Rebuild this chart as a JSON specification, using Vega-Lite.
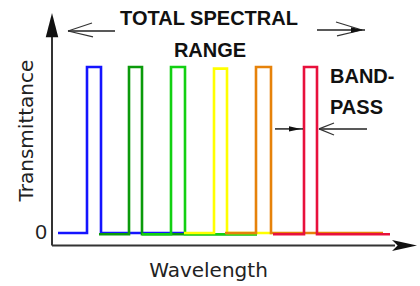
{
  "$schema": "https://vega.github.io/schema/vega-lite/v6.json",
  "width": 420,
  "height": 286,
  "autosize": {"type": "fit", "contains": "padding"},
  "padding": 0,
  "background": "white",
  "config": {"view": {"stroke": null}},
  "datasets": {
    "pulses": [
      {"band": "blue", "i": 1, "w": 6, "t": 0},
      {"band": "blue", "i": 2, "w": 35, "t": 0},
      {"band": "blue", "i": 3, "w": 35, "t": 1},
      {"band": "blue", "i": 4, "w": 49, "t": 1},
      {"band": "blue", "i": 5, "w": 49, "t": 0},
      {"band": "blue", "i": 6, "w": 132, "t": 0},
      {"band": "darkgreen", "i": 1, "w": 47, "t": -0.008},
      {"band": "darkgreen", "i": 2, "w": 77, "t": -0.008},
      {"band": "darkgreen", "i": 3, "w": 77, "t": 1},
      {"band": "darkgreen", "i": 4, "w": 90, "t": 1},
      {"band": "darkgreen", "i": 5, "w": 90, "t": -0.008},
      {"band": "darkgreen", "i": 6, "w": 205, "t": -0.008},
      {"band": "green", "i": 1, "w": 90, "t": -0.008},
      {"band": "green", "i": 2, "w": 119, "t": -0.008},
      {"band": "green", "i": 3, "w": 119, "t": 1},
      {"band": "green", "i": 4, "w": 133, "t": 1},
      {"band": "green", "i": 5, "w": 133, "t": -0.008},
      {"band": "green", "i": 6, "w": 205, "t": -0.008},
      {"band": "yellow", "i": 1, "w": 132, "t": 0},
      {"band": "yellow", "i": 2, "w": 162, "t": 0},
      {"band": "yellow", "i": 3, "w": 162, "t": 0.99},
      {"band": "yellow", "i": 4, "w": 175, "t": 0.99},
      {"band": "yellow", "i": 5, "w": 175, "t": 0},
      {"band": "yellow", "i": 6, "w": 220, "t": 0},
      {"band": "orange", "i": 1, "w": 173, "t": 0},
      {"band": "orange", "i": 2, "w": 204, "t": 0},
      {"band": "orange", "i": 3, "w": 204, "t": 1},
      {"band": "orange", "i": 4, "w": 219, "t": 1},
      {"band": "orange", "i": 5, "w": 219, "t": 0},
      {"band": "orange", "i": 6, "w": 331, "t": 0},
      {"band": "red", "i": 1, "w": 221, "t": -0.008},
      {"band": "red", "i": 2, "w": 252, "t": -0.008},
      {"band": "red", "i": 3, "w": 252, "t": 1},
      {"band": "red", "i": 4, "w": 265, "t": 1},
      {"band": "red", "i": 5, "w": 265, "t": -0.008},
      {"band": "red", "i": 6, "w": 338, "t": -0.008}
    ],
    "axes": [
      {"part": "transmittance axis", "w": 0, "t": 1.193, "w2": 0, "t2": -0.075},
      {"part": "wavelength axis", "w": 0, "t": -0.075, "w2": 343, "t2": -0.075}
    ],
    "arrows": [
      {"part": "range left", "w": 16, "t": 1.217, "w2": 63, "t2": 1.217},
      {"part": "range right", "w": 265, "t": 1.223, "w2": 313, "t2": 1.223},
      {"part": "bandpass left", "w": 223, "t": 0.627, "w2": 251, "t2": 0.627},
      {"part": "bandpass right", "w": 267, "t": 0.627, "w2": 315, "t2": 0.627}
    ],
    "barbs": [
      {"part": "range left upper", "w": 16, "t": 1.217, "w2": 40, "t2": 1.265},
      {"part": "range left lower", "w": 16, "t": 1.217, "w2": 41, "t2": 1.181},
      {"part": "range right upper", "w": 310, "t": 1.223, "w2": 284, "t2": 1.271},
      {"part": "range right lower", "w": 310, "t": 1.223, "w2": 285, "t2": 1.187},
      {"part": "bandpass right upper", "w": 267, "t": 0.627, "w2": 282, "t2": 0.663},
      {"part": "bandpass right lower", "w": 267, "t": 0.627, "w2": 282, "t2": 0.59}
    ],
    "xhead": [{"part": "wavelength arrow", "w": 352.5, "t": -0.075}],
    "yhead": [{"part": "transmittance arrow", "w": 0, "t": 1.25}],
    "smallheads": [
      {"part": "range right head", "w": 305, "t": 1.223},
      {"part": "bandpass left head", "w": 243, "t": 0.627}
    ],
    "titlesCenter": [
      {"label": "TOTAL SPECTRAL", "w": 157, "t": 1.253},
      {"label": "RANGE", "w": 158, "t": 1.06}
    ],
    "titlesLeft": [
      {"label": "BAND-", "w": 278, "t": 0.904},
      {"label": "PASS", "w": 278, "t": 0.717}
    ],
    "ytitle": [{"label": "Transmittance", "w": -19, "t": 0.617}],
    "xtitle": [{"label": "Wavelength", "w": 156.5, "t": -0.265}],
    "zero": [{"label": "0", "w": -11, "t": -0.039}]
  },
  "encoding": {
    "x": {"field": "w", "type": "quantitative", "scale": {"domain": [-52, 368], "nice": false, "zero": false}, "axis": null},
    "y": {"field": "t", "type": "quantitative", "scale": {"domain": [-0.3193, 1.4036], "nice": false, "zero": false}, "axis": null}
  },
  "layer": [
    {
      "data": {"name": "axes"},
      "mark": {"type": "rule", "color": "#333333", "strokeWidth": 2},
      "encoding": {"x2": {"field": "w2"}, "y2": {"field": "t2"}}
    },
    {
      "data": {"name": "xhead"},
      "mark": {"type": "point", "shape": "M1,0 L-1,-0.44 L-0.55,0 L-1,0.44 Z", "size": 625, "filled": true, "color": "#111111", "opacity": 1}
    },
    {
      "data": {"name": "yhead"},
      "mark": {"type": "point", "shape": "M0,-1 L0.5,0.95 L-0.5,0.95 Z", "size": 625, "filled": true, "color": "#111111", "opacity": 1}
    },
    {
      "data": {"name": "pulses"},
      "mark": {"type": "line", "strokeWidth": 2.6, "strokeJoin": "miter", "strokeCap": "butt"},
      "encoding": {
        "color": {"field": "band", "type": "nominal", "legend": null,
          "scale": {"domain": ["blue", "darkgreen", "green", "yellow", "orange", "red"],
                    "range": ["#1414ff", "#0b9a0b", "#12d012", "#ffff00", "#e6820a", "#e8103c"]}},
        "order": {"field": "i", "type": "quantitative"}
      }
    },
    {
      "data": {"name": "arrows"},
      "mark": {"type": "rule", "color": "#222222", "strokeWidth": 1.5},
      "encoding": {"x2": {"field": "w2"}, "y2": {"field": "t2"}}
    },
    {
      "data": {"name": "barbs"},
      "mark": {"type": "rule", "color": "#333333", "strokeWidth": 1.2},
      "encoding": {"x2": {"field": "w2"}, "y2": {"field": "t2"}}
    },
    {
      "data": {"name": "smallheads"},
      "mark": {"type": "point", "shape": "M1,0 L-1,-0.45 L-1,0.45 Z", "size": 144, "filled": true, "color": "#111111", "opacity": 1}
    },
    {
      "data": {"name": "titlesCenter"},
      "mark": {"type": "text", "font": "Liberation Sans", "fontSize": 20, "fontWeight": "bold", "align": "center", "baseline": "alphabetic", "color": "#111111"},
      "encoding": {"text": {"field": "label"}}
    },
    {
      "data": {"name": "titlesLeft"},
      "mark": {"type": "text", "font": "Liberation Sans", "fontSize": 20, "fontWeight": "bold", "align": "left", "baseline": "alphabetic", "color": "#111111"},
      "encoding": {"text": {"field": "label"}}
    },
    {
      "data": {"name": "ytitle"},
      "mark": {"type": "text", "font": "DejaVu Sans", "fontSize": 20, "angle": 270, "align": "center", "baseline": "alphabetic", "color": "#222222"},
      "encoding": {"text": {"field": "label"}}
    },
    {
      "data": {"name": "xtitle"},
      "mark": {"type": "text", "font": "DejaVu Sans", "fontSize": 20, "align": "center", "baseline": "alphabetic", "color": "#222222"},
      "encoding": {"text": {"field": "label"}}
    },
    {
      "data": {"name": "zero"},
      "mark": {"type": "text", "font": "Liberation Sans", "fontSize": 21, "align": "center", "baseline": "alphabetic", "color": "#222222"},
      "encoding": {"text": {"field": "label"}}
    }
  ]
}
